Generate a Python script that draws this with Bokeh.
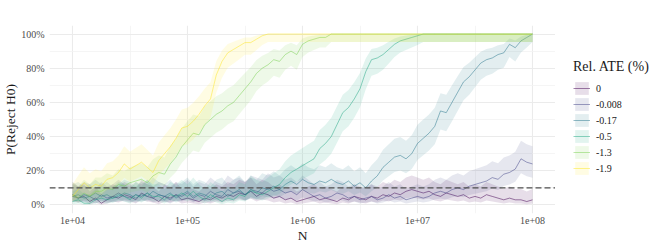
import numpy as np
from bokeh.plotting import figure
from bokeh.layouts import row
from bokeh.models import FixedTicker, Span, Legend, LegendItem, NumeralTickFormatter
from bokeh.embed import file_html
from bokeh.resources import INLINE

# ---- data ----
log10_n = [4.00, 4.05, 4.10, 4.15, 4.20, 4.25, 4.30, 4.35, 4.40, 4.45,
           4.50, 4.55, 4.60, 4.65, 4.70, 4.75, 4.80, 4.85, 4.90, 4.95,
           5.00, 5.05, 5.10, 5.15, 5.20, 5.25, 5.30, 5.35, 5.40, 5.45,
           5.50, 5.55, 5.60, 5.65, 5.70, 5.75, 5.80, 5.85, 5.90, 5.95,
           6.00, 6.05, 6.10, 6.15, 6.20, 6.25, 6.30, 6.35, 6.40, 6.45,
           6.50, 6.55, 6.60, 6.65, 6.70, 6.75, 6.80, 6.85, 6.90, 6.95,
           7.00, 7.05, 7.10, 7.15, 7.20, 7.25, 7.30, 7.35, 7.40, 7.45,
           7.50, 7.55, 7.60, 7.65, 7.70, 7.75, 7.80, 7.85, 7.90, 7.95,
           8.00]

# rejection rate (%) per relative ATE
rej_0 = [6, 4, 5, 2, 4, 1, 3, 5, 4, 6, 5, 3, 7, 5, 4, 2, 5, 4, 6, 3,
         4, 3, 2, 4, 3, 5, 4, 6, 5, 7, 6, 8, 5, 7, 6, 4, 5, 3, 4, 2,
         3, 4, 5, 3, 4, 3, 2, 4, 3, 5, 4, 3, 5, 4, 6, 5, 7, 6, 8, 9,
         8, 7, 8, 6, 5, 7, 6, 5, 6, 4, 5, 4, 6, 5, 4, 3, 4, 3, 3, 2,
         3]
rej_m0008 = [5, 4, 6, 5, 3, 6, 4, 5, 7, 5, 4, 6, 5, 7, 4, 6, 5, 3, 6, 5,
             7, 4, 6, 5, 8, 6, 5, 9, 7, 8, 6, 9, 8, 7, 10, 8, 9, 7, 8, 6,
             9, 7, 5, 6, 4, 5, 7, 6, 4, 5, 3, 4, 5, 3, 4, 6, 4, 5, 3, 4,
             5, 4, 5, 7, 8, 7, 9, 10, 9, 11, 12, 13, 14, 16, 15, 18, 19, 21, 27, 25,
             24]
rej_m017 = [5, 6, 4, 5, 7, 5, 6, 4, 5, 7, 6, 4, 6, 5, 8, 6, 5, 7, 4, 6,
            8, 5, 7, 6, 4, 7, 8, 5, 7, 9, 6, 8, 7, 10, 9, 11, 9, 12, 14, 12,
            15, 13, 12, 14, 13, 15, 13, 12, 14, 11, 13, 10, 14, 17, 22, 25, 28, 29, 27, 30,
            36, 39, 42, 46, 55, 54, 60, 66, 72, 75, 79, 83, 85, 86, 88, 89, 94, 92, 96, 98,
            100]
rej_m05 = [2, 3, 1, 1, 3, 4, 3, 4, 6, 5, 3, 6, 4, 7, 5, 5, 3, 6, 5, 7,
           5, 8, 5, 3, 6, 4, 2, 4, 3, 6, 5, 9, 7, 6, 8, 10, 12, 16, 19, 21,
           23, 25, 27, 33, 36, 40, 47, 54, 57, 62, 68, 78, 85, 86, 88, 91, 94, 96, 97, 98,
           99, 100, 100, 100, 100, 100, 100, 100, 100, 100, 100, 100, 100, 100, 100, 100, 100, 100, 100, 100,
           100]
rej_m13 = [6, 4, 7, 5, 8, 8, 10, 9, 12, 11, 13, 14, 15, 13, 17, 19, 18, 24, 28, 34,
           38, 42, 41, 47, 50, 53, 55, 58, 60, 64, 68, 72, 77, 80, 82, 85, 84, 88, 90, 88,
           94, 96, 97, 98, 98, 100, 100, 100, 100, 100, 100, 100, 100, 100, 100, 100, 100, 100, 100, 100,
           100, 100, 100, 100, 100, 100, 100, 100, 100, 100, 100, 100, 100, 100, 100, 100, 100, 100, 100, 100,
           100]
rej_m19 = [5, 9, 13, 10, 12, 11, 15, 16, 19, 24, 21, 23, 25, 22, 19, 26, 30, 34, 39, 45,
           46, 49, 53, 58, 62, 76, 84, 89, 91, 93, 95, 95, 97, 99, 100, 100, 100, 100, 100, 100,
           100, 100, 100, 100, 100, 100, 100, 100, 100, 100, 100, 100, 100, 100, 100, 100, 100, 100, 100, 100,
           100, 100, 100, 100, 100, 100, 100, 100, 100, 100, 100, 100, 100, 100, 100, 100, 100, 100, 100, 100,
           100]

series_labels = ["0", "-0.008", "-0.17", "-0.5", "-1.3", "-1.9"]
series_values = [rej_0, rej_m0008, rej_m017, rej_m05, rej_m13, rej_m19]
series_colors = ["#440154", "#414487", "#2A788E", "#22A884", "#7AD151", "#FDE725"]
n_sims = 80            # simulations per point (binomial CI)
alpha_level = 0.10     # dashed reference line
x_ticks = [1e4, 1e5, 1e6, 1e7, 1e8]
x_tick_labels = ["1e+04", "1e+05", "1e+06", "1e+07", "1e+08"]
x_minor = [10 ** 4.5, 10 ** 5.5, 10 ** 6.5, 10 ** 7.5]
y_ticks = [0.0, 0.2, 0.4, 0.6, 0.8, 1.0]
y_minor = [0.1, 0.3, 0.5, 0.7, 0.9]

FONT = "Liberation Serif"
BAND_ALPHA = 0.13
LINE_ALPHA = 0.5

x = 10 ** np.array(log10_n)

p = figure(width=555, height=249, x_axis_type="log",
           x_range=(10 ** 3.8, 10 ** 8.2), y_range=(-0.05, 1.05),
           output_backend="svg", toolbar_location=None,
           min_border_left=48, min_border_right=0, min_border_top=25,
           min_border_bottom=36)
p.outline_line_color = None
p.background_fill_color = "white"
p.border_fill_color = "white"

# grid
p.xaxis.ticker = FixedTicker(ticks=x_ticks, minor_ticks=x_minor)
p.yaxis.ticker = FixedTicker(ticks=y_ticks, minor_ticks=y_minor)
for g in (p.xgrid, p.ygrid):
    g.grid_line_color = "#EBEBEB"
    g.grid_line_width = 1.1
    g.minor_grid_line_color = "#F3F3F3"
    g.minor_grid_line_width = 0.8

# axes
for ax in (p.xaxis, p.yaxis):
    ax.axis_line_color = None
    ax.major_tick_line_color = None
    ax.minor_tick_line_color = None
    ax.major_tick_out = 0
    ax.minor_tick_out = 0
    ax.major_label_text_font = FONT
    ax.major_label_text_font_size = "10px"
    ax.major_label_text_color = "#4D4D4D"
    ax.axis_label_text_font = FONT
    ax.axis_label_text_font_size = "13.5px"
    ax.axis_label_text_font_style = "normal"
    ax.axis_label_text_color = "#1A1A1A"
p.xaxis.major_label_overrides = {int(t): l for t, l in zip(x_ticks, x_tick_labels)}
p.yaxis.formatter = NumeralTickFormatter(format="0%")
p.xaxis.axis_label = "N"
p.yaxis.axis_label = "P(Reject H0)"
p.xaxis.major_label_standoff = 3
p.xaxis.axis_label_standoff = 1
p.yaxis.major_label_standoff = 5
p.yaxis.axis_label_standoff = 0

# legend-only panel (its glyph copies sit outside its visible range)
lg = figure(width=109, height=249, x_range=(0, 1), y_range=(0, 1),
            output_backend="svg", toolbar_location=None,
            x_axis_location=None, y_axis_location=None,
            min_border_left=0, min_border_right=0, min_border_top=0,
            min_border_bottom=0)
lg.outline_line_color = None
lg.xgrid.visible = False
lg.ygrid.visible = False
lg.border_fill_color = "white"

items = []
for lab, vals, col in zip(series_labels, series_values, series_colors):
    pr = np.array(vals) / 100.0
    z = 1.96
    denom = 1 + z ** 2 / n_sims
    center = (pr + z ** 2 / (2 * n_sims)) / denom
    half = z * np.sqrt(pr * (1 - pr) / n_sims + z ** 2 / (4 * n_sims ** 2)) / denom
    lo = np.clip(center - half, 0, 1)
    hi = np.clip(center + half, 0, 1)
    p.varea(x=x, y1=lo, y2=hi, fill_color=col, fill_alpha=BAND_ALPHA)
    p.line(x=x, y=pr, line_color=col, line_alpha=LINE_ALPHA, line_width=1)
    b2 = lg.varea(x=x, y1=lo, y2=hi, fill_color=col, fill_alpha=BAND_ALPHA)
    l2 = lg.line(x=x, y=pr, line_color=col, line_alpha=LINE_ALPHA, line_width=1)
    items.append(LegendItem(label=lab, renderers=[b2, l2]))

p.add_layout(Span(location=alpha_level, dimension="width", line_color="#4D4D4D",
                  line_dash="6 3", line_width=1.4))

legend = Legend(items=items, title="Rel. ATE (%)", location=(18, 37),
                title_text_font=FONT, title_text_font_size="14px",
                title_text_font_style="normal", title_text_color="#1A1A1A",
                label_text_font=FONT, label_text_font_size="10px",
                label_text_color="#1A1A1A",
                glyph_width=17, glyph_height=16, spacing=0, label_standoff=6,
                padding=8, margin=0, border_line_color=None,
                background_fill_alpha=0, title_standoff=5)
lg.add_layout(legend, "center")

layout = row(p, lg, spacing=0)
open("out.html", "w").write(file_html(layout, INLINE))
